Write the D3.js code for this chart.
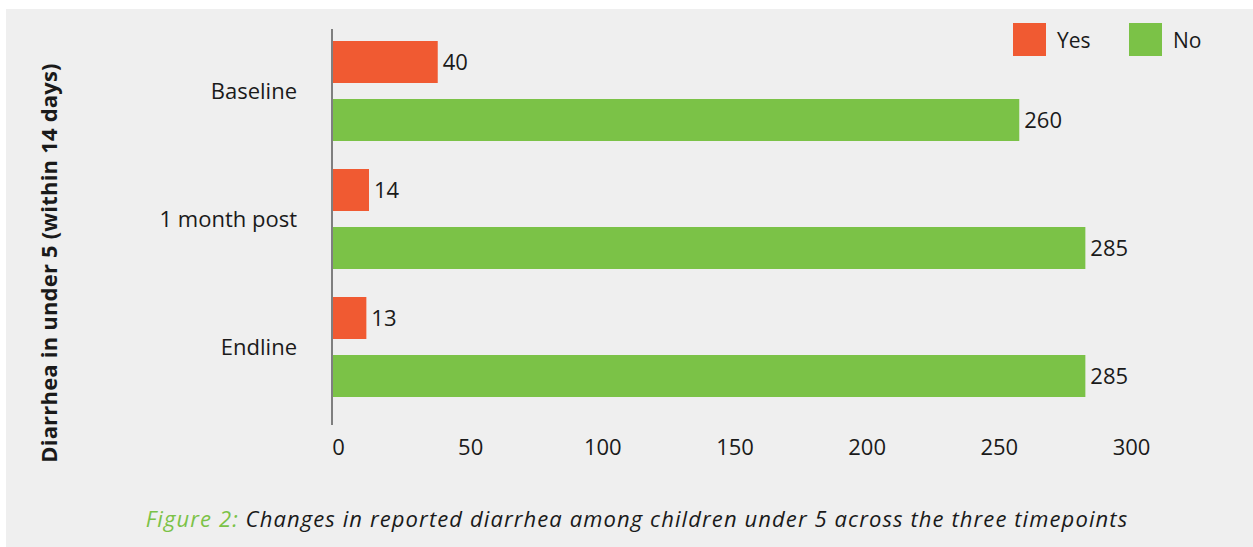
<!DOCTYPE html>
<html>
<head>
<meta charset="utf-8">
<script src="https://cdn.jsdelivr.net/npm/d3@7"></script>
<style>
  html, body { margin: 0; padding: 0; background: #ffffff; }
  svg { display: block; }
  text { font-family: "Open Sans", Lato, sans-serif; fill: #1a1a1a; }
</style>
</head>
<body>
<div id="chart"></div>
<script>
const categories = ["Baseline", "1 month post", "Endline"];
const seriesNames = ["Yes", "No"];
const yesValues = [40, 14, 13];
const noValues = [260, 285, 285];
const xTicks = [0, 50, 100, 150, 200, 250, 300];
const colors = ["#F05A32", "#7BC247"];
const yTitle = "Diarrhea in under 5 (within 14 days)";
const captionLead = "Figure 2:";
const captionText = " Changes in reported diarrhea among children under 5 across the three timepoints";

const W = 1253, H = 547;
const FONT = "'Open Sans', Lato, sans-serif";
const svg = d3.select("#chart").append("svg").attr("width", W).attr("height", H);

svg.append("rect").attr("x", 6).attr("y", 9).attr("width", W - 6).attr("height", H - 9).attr("fill", "#efefef");

const x = d3.scaleLinear().domain([0, 300]).range([332, 1125]);
const y0 = d3.scaleBand().domain(categories).range([27, 411]).padding(0);
const y1 = d3.scaleBand().domain(seriesNames).range([0, y0.bandwidth()]).paddingInner(0.2759).paddingOuter(0.2414);

const rows = categories.map((c, i) => ({cat: c, vals: [yesValues[i], noValues[i]]}));

const g = svg.append("g");
const groups = g.selectAll("g.grp").data(rows).join("g")
  .attr("class", "grp")
  .attr("transform", d => `translate(0,${y0(d.cat)})`);

groups.selectAll("rect").data(d => d.vals.map((v, j) => ({name: seriesNames[j], v, j})))
  .join("rect")
  .attr("x", x(0))
  .attr("y", d => y1(d.name))
  .attr("width", d => x(d.v) - x(0))
  .attr("height", y1.bandwidth())
  .attr("fill", d => colors[d.j]);

groups.selectAll("text.val").data(d => d.vals.map((v, j) => ({name: seriesNames[j], v, j})))
  .join("text")
  .attr("class", "val")
  .attr("x", d => x(d.v) + 5)
  .attr("y", d => y1(d.name) + y1.bandwidth() / 2)
  .attr("dy", "0.36em")
  .attr("font-size", 22)
  .text(d => d.v);

// Category labels
g.selectAll("text.cat").data(categories).join("text")
  .attr("class", "cat")
  .attr("x", 297)
  .attr("y", d => y0(d) + y0.bandwidth() / 2)
  .attr("dy", "0.36em")
  .attr("text-anchor", "end")
  .attr("font-size", 22)
  .text(d => d);

// vertical axis line
svg.append("line")
  .attr("x1", x(0)).attr("x2", x(0))
  .attr("y1", 29).attr("y2", 425)
  .attr("stroke", "#7f7f7f").attr("stroke-width", 2);

// x axis tick labels
const xAxis = d3.axisBottom(x).tickValues(xTicks).tickSize(0).tickPadding(0);
const ax = svg.append("g").attr("transform", "translate(6,439)").call(xAxis);
ax.select(".domain").remove();
ax.selectAll("text").attr("font-size", 22).attr("fill", "#1a1a1a").attr("dy", "0.71em")
  .style("font-family", FONT);

// y title
svg.append("text")
  .attr("transform", `translate(57,263) rotate(-90)`)
  .attr("text-anchor", "middle")
  .attr("font-size", 22)
  .attr("font-weight", "bold")
  .attr("letter-spacing", 0.2)
  .text(yTitle);

// legend
const leg = svg.append("g");
const legX = [1013, 1129];
seriesNames.forEach((n, i) => {
  leg.append("rect").attr("x", legX[i]).attr("y", 23).attr("width", 33).attr("height", 33).attr("fill", colors[i]);
  leg.append("text").attr("x", legX[i] + 44).attr("y", 40).attr("dy", "0.36em").attr("font-size", 21).text(n);
});

// caption
const cap = svg.append("text")
  .attr("x", 637).attr("y", 527)
  .attr("text-anchor", "middle")
  .attr("font-size", 22)
  .attr("letter-spacing", 1.1)
  .attr("font-style", "italic");
cap.append("tspan").style("fill", "#7BC247").text(captionLead);
cap.append("tspan").text(captionText);
</script>
</body>
</html>
